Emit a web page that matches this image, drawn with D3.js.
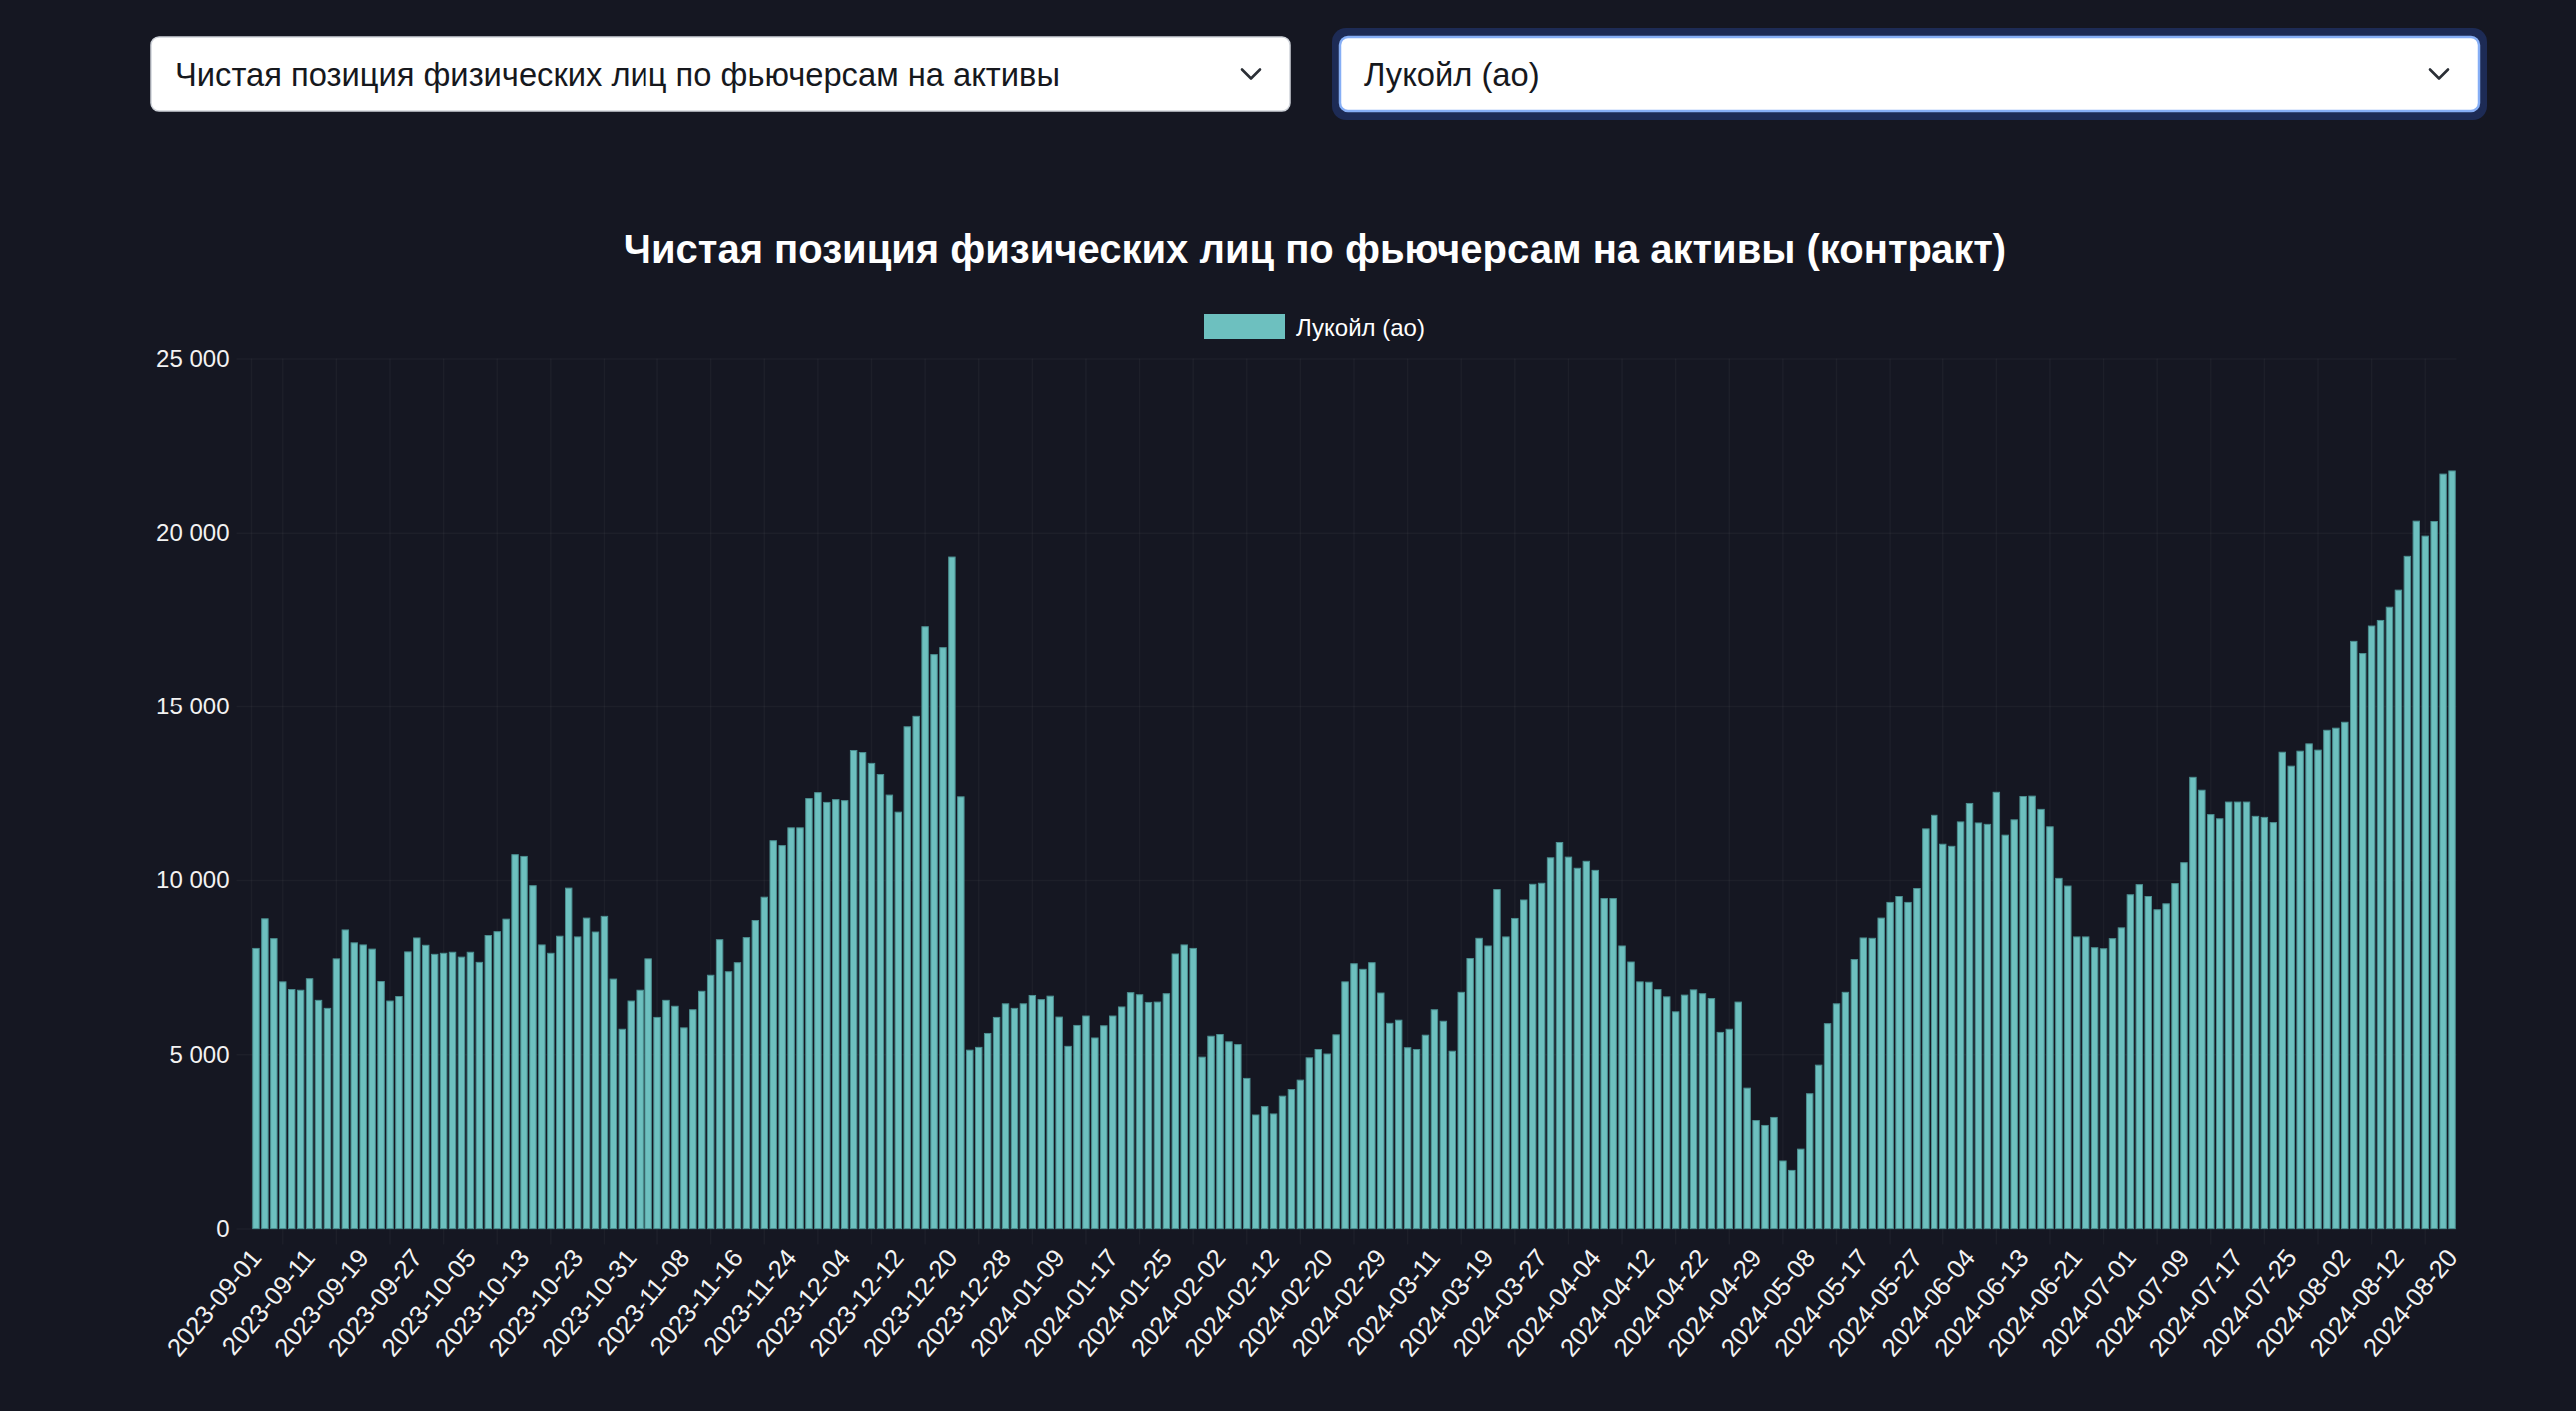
<!DOCTYPE html>
<html><head><meta charset="utf-8">
<script src="https://cdn.jsdelivr.net/npm/d3@7"></script>
<style>
html,body{margin:0;padding:0;background:#151722;}
svg{display:block;}
</style></head><body>
<svg id="c" width="2578" height="1412"></svg>
<script>
const dates = [
"2023-09-01","2023-09-04","2023-09-05","2023-09-06","2023-09-07","2023-09-08","2023-09-11","2023-09-12","2023-09-13","2023-09-14","2023-09-15","2023-09-18","2023-09-19","2023-09-20","2023-09-21","2023-09-22","2023-09-25","2023-09-26","2023-09-27","2023-09-28","2023-09-29",
"2023-10-02","2023-10-03","2023-10-04","2023-10-05","2023-10-06","2023-10-09","2023-10-10","2023-10-11","2023-10-12","2023-10-13","2023-10-16","2023-10-17","2023-10-18","2023-10-19","2023-10-20","2023-10-23","2023-10-24","2023-10-25","2023-10-26","2023-10-27","2023-10-30","2023-10-31",
"2023-11-01","2023-11-02","2023-11-03","2023-11-06","2023-11-07","2023-11-08","2023-11-09","2023-11-10","2023-11-13","2023-11-14","2023-11-15","2023-11-16","2023-11-17","2023-11-20","2023-11-21","2023-11-22","2023-11-23","2023-11-24","2023-11-27","2023-11-28","2023-11-29","2023-11-30",
"2023-12-01","2023-12-04","2023-12-05","2023-12-06","2023-12-07","2023-12-08","2023-12-11","2023-12-12","2023-12-13","2023-12-14","2023-12-15","2023-12-18","2023-12-19","2023-12-20","2023-12-21","2023-12-22","2023-12-25","2023-12-26","2023-12-27","2023-12-28","2023-12-29",
"2024-01-03","2024-01-04","2024-01-05","2024-01-08","2024-01-09","2024-01-10","2024-01-11","2024-01-12","2024-01-15","2024-01-16","2024-01-17","2024-01-18","2024-01-19","2024-01-22","2024-01-23","2024-01-24","2024-01-25","2024-01-26","2024-01-29","2024-01-30","2024-01-31",
"2024-02-01","2024-02-02","2024-02-05","2024-02-06","2024-02-07","2024-02-08","2024-02-09","2024-02-12","2024-02-13","2024-02-14","2024-02-15","2024-02-16","2024-02-19","2024-02-20","2024-02-21","2024-02-22","2024-02-26","2024-02-27","2024-02-28","2024-02-29",
"2024-03-01","2024-03-04","2024-03-05","2024-03-06","2024-03-07","2024-03-11","2024-03-12","2024-03-13","2024-03-14","2024-03-15","2024-03-18","2024-03-19","2024-03-20","2024-03-21","2024-03-22","2024-03-25","2024-03-26","2024-03-27","2024-03-28","2024-03-29",
"2024-04-01","2024-04-02","2024-04-03","2024-04-04","2024-04-05","2024-04-08","2024-04-09","2024-04-10","2024-04-11","2024-04-12","2024-04-15","2024-04-16","2024-04-17","2024-04-18","2024-04-19","2024-04-22","2024-04-23","2024-04-24","2024-04-25","2024-04-26","2024-04-27","2024-04-29","2024-04-30",
"2024-05-02","2024-05-03","2024-05-06","2024-05-07","2024-05-08","2024-05-10","2024-05-13","2024-05-14","2024-05-15","2024-05-16","2024-05-17","2024-05-20","2024-05-21","2024-05-22","2024-05-23","2024-05-24","2024-05-27","2024-05-28","2024-05-29","2024-05-30","2024-05-31",
"2024-06-03","2024-06-04","2024-06-05","2024-06-06","2024-06-07","2024-06-10","2024-06-11","2024-06-13","2024-06-14","2024-06-17","2024-06-18","2024-06-19","2024-06-20","2024-06-21","2024-06-24","2024-06-25","2024-06-26","2024-06-27","2024-06-28",
"2024-07-01","2024-07-02","2024-07-03","2024-07-04","2024-07-05","2024-07-08","2024-07-09","2024-07-10","2024-07-11","2024-07-12","2024-07-15","2024-07-16","2024-07-17","2024-07-18","2024-07-19","2024-07-22","2024-07-23","2024-07-24","2024-07-25","2024-07-26","2024-07-29","2024-07-30","2024-07-31",
"2024-08-01","2024-08-02","2024-08-05","2024-08-06","2024-08-07","2024-08-08","2024-08-09","2024-08-12","2024-08-13","2024-08-14","2024-08-15","2024-08-16","2024-08-19","2024-08-20"
];
const values = [
8040, 8890, 8320, 7080, 6860, 6840, 7170, 6550, 6320, 7740,
8570, 8200, 8140, 8020, 7090, 6530, 6660, 7940, 8340, 8130,
7870, 7900, 7930, 7790, 7930, 7640, 8410, 8520, 8880, 10730,
10680, 9840, 8140, 7900, 8390, 9770, 8370, 8910, 8510, 8960,
7160, 5720, 6530, 6840, 7740, 6060, 6550, 6380, 5760, 6280,
6810, 7270, 8290, 7370, 7630, 8350, 8840, 9510, 11130, 10990,
11500, 11500, 12340, 12510, 12230, 12310, 12280, 13720, 13660, 13350,
13030, 12440, 11950, 14400, 14700, 17300, 16500, 16700, 19300, 12390,
5120, 5200, 5600, 6060, 6450, 6320, 6450, 6690, 6570, 6670,
6070, 5230, 5830, 6100, 5470, 5820, 6100, 6360, 6770, 6710,
6490, 6500, 6740, 7880, 8140, 8040, 4920, 5520, 5570, 5360,
5280, 4310, 3260, 3500, 3290, 3800, 3990, 4260, 4900, 5140,
5010, 5560, 7080, 7600, 7440, 7630, 6760, 5890, 5980, 5190,
5140, 5550, 6280, 5950, 5090, 6780, 7750, 8330, 8110, 9730,
8370, 8900, 9430, 9880, 9910, 10640, 11080, 10660, 10340, 10540,
10280, 9470, 9470, 8110, 7650, 7080, 7070, 6860, 6650, 6220,
6700, 6850, 6740, 6600, 5630, 5720, 6500, 4030, 3100, 2960,
3190, 1940, 1670, 2280, 3870, 4690, 5880, 6450, 6780, 7720,
8340, 8330, 8910, 9360, 9530, 9360, 9760, 11470, 11860, 11030,
10970, 11670, 12200, 11640, 11600, 12520, 11290, 11730, 12400, 12410,
12030, 11530, 10050, 9830, 8370, 8370, 8060, 8030, 8320, 8630,
9580, 9870, 9530, 9150, 9320, 9900, 10500, 12950, 12580, 11880,
11760, 12240, 12240, 12240, 11830, 11800, 11650, 13670, 13270, 13700,
13910, 13730, 14300, 14360, 14530, 16880, 16530, 17320, 17480, 17860,
18350, 19320, 20330, 19900, 20320, 21680, 21770
];
const xTickLabels = [
"2023-09-01","2023-09-11","2023-09-19","2023-09-27","2023-10-05","2023-10-13","2023-10-23","2023-10-31","2023-11-08","2023-11-16","2023-11-24","2023-12-04","2023-12-12","2023-12-20","2023-12-28",
"2024-01-09","2024-01-17","2024-01-25","2024-02-02","2024-02-12","2024-02-20","2024-02-29","2024-03-11","2024-03-19","2024-03-27","2024-04-04","2024-04-12","2024-04-22","2024-04-29",
"2024-05-08","2024-05-17","2024-05-27","2024-06-04","2024-06-13","2024-06-21","2024-07-01","2024-07-09","2024-07-17","2024-07-25","2024-08-02","2024-08-12","2024-08-20"
];
const yTicks = [0, 5000, 10000, 15000, 20000, 25000];
const seriesName = "Лукойл (ао)";
const metricName = "Чистая позиция физических лиц по фьючерсам на активы";
const chartTitle = "Чистая позиция физических лиц по фьючерсам на активы (контракт)";

if (dates.length !== values.length) throw new Error("length mismatch " + dates.length + " vs " + values.length);

const W = 2578, H = 1412;
const FONT = "'Liberation Sans', Arial, Helvetica, sans-serif";
const BG = "#151722";
const BAR = "#6dc0bf";
const GRID = "rgba(255,255,255,0.035)";
const svg = d3.select("#c");
svg.append("rect").attr("width", W).attr("height", H).attr("fill", BG);

// ---- dropdowns ----
function chevron(g, cx, cy) {
  g.append("path")
    .attr("d", `M${cx - 9},${cy - 4.5} L${cx},${cy + 4.5} L${cx + 9},${cy - 4.5}`)
    .attr("fill", "none").attr("stroke", "#2b2f36").attr("stroke-width", 2.6)
    .attr("stroke-linecap", "round").attr("stroke-linejoin", "round");
}
const dd = svg.append("g");
dd.append("rect").attr("x", 151).attr("y", 37).attr("width", 1140).attr("height", 74)
  .attr("rx", 8).attr("fill", "#fff").attr("stroke", "#cfd3da").attr("stroke-width", 1.5);
dd.append("text").attr("x", 175).attr("y", 74).attr("dominant-baseline", "central")
  .attr("font-family", FONT).attr("font-size", 32.7).attr("fill", "#16181d").text(metricName);
chevron(dd, 1252, 74);

dd.append("rect").attr("x", 1333).attr("y", 28).attr("width", 1156).attr("height", 92)
  .attr("rx", 14).attr("fill", "#1d2b55");
dd.append("rect").attr("x", 1341).attr("y", 37).attr("width", 1140).attr("height", 74)
  .attr("rx", 8).attr("fill", "#fff").attr("stroke", "#86aef5").attr("stroke-width", 2.5);
dd.append("text").attr("x", 1365).attr("y", 74).attr("dominant-baseline", "central")
  .attr("font-family", FONT).attr("font-size", 32.7).attr("fill", "#16181d").text(seriesName);
chevron(dd, 2441, 74);

// ---- title & legend ----
svg.append("text").attr("x", 1316).attr("y", 263).attr("text-anchor", "middle")
  .attr("font-family", FONT).attr("font-weight", "bold").attr("font-size", 40)
  .attr("fill", "#ffffff").text(chartTitle);
svg.append("rect").attr("x", 1205).attr("y", 314).attr("width", 81).attr("height", 25)
  .attr("fill", BAR);
svg.append("text").attr("x", 1297).attr("y", 327).attr("dominant-baseline", "central")
  .attr("font-family", FONT).attr("font-size", 24).attr("fill", "#ffffff").text(seriesName);

// ---- plot ----
const plot = { left: 251.5, right: 2458.5, top: 358.4, bottom: 1229.6 };
const x = d3.scaleBand().domain(dates).range([plot.left, plot.right])
  .paddingInner(0.28).paddingOuter(0.14);
const y = d3.scaleLinear().domain([0, 25000]).range([plot.bottom, plot.top]);
const step = x.step();
const cx = d => x(d) + x.bandwidth() / 2;
const fmt = d => d3.format(",")(d).replace(/,/g, "\u00a0");

// horizontal grid
const ya = svg.append("g").attr("transform", `translate(${plot.right},0)`);
ya.call(d3.axisLeft(y).tickValues(yTicks).tickSize(plot.right - plot.left + 15).tickFormat(""));
ya.select(".domain").remove();
ya.selectAll(".tick line").attr("stroke", GRID).attr("stroke-width", 1.5);

// vertical grid lines (offset half-way between displayed ticks)
const grid = svg.append("g");
const gridX = xTickLabels.slice(1).map(d => cx(d) - 3 * step);
grid.selectAll("line.v").data(gridX).join("line")
  .attr("x1", d => d).attr("x2", d => d)
  .attr("y1", plot.top).attr("y2", plot.bottom + 16)
  .attr("stroke", GRID).attr("stroke-width", 1.5);
grid.append("line").attr("x1", plot.left).attr("x2", plot.left)
  .attr("y1", plot.top).attr("y2", plot.bottom)
  .attr("stroke", GRID).attr("stroke-width", 1.5);

// y labels
const yl = svg.append("g").attr("transform", `translate(${plot.left},0)`);
yl.call(d3.axisLeft(y).tickValues(yTicks).tickSize(0).tickPadding(22).tickFormat(fmt));
yl.select(".domain").remove();
yl.selectAll("text").attr("font-family", FONT).attr("font-size", 24).attr("fill", "#f2f2f2");

// bars
svg.append("g").selectAll("rect").data(values).join("rect")
  .attr("x", (d, i) => x(dates[i]))
  .attr("width", x.bandwidth())
  .attr("y", d => y(d))
  .attr("height", d => y(0) - y(d))
  .attr("fill", BAR)
  .attr("stroke", "#4b8f90").attr("stroke-width", 1);

// x labels
const xa = svg.append("g").attr("transform", `translate(0,${plot.bottom})`);
xa.call(d3.axisBottom(x).tickValues(xTickLabels).tickSize(0).tickFormat(d => d));
xa.select(".domain").remove();
xa.selectAll(".tick text")
  .attr("font-family", FONT).attr("font-size", 25.5).attr("fill", "#f2f2f2")
  .attr("text-anchor", "end").attr("dy", null).attr("y", null)
  .attr("dominant-baseline", "central")
  .attr("transform", "translate(0,24) rotate(-50)");
</script>
</body></html>
